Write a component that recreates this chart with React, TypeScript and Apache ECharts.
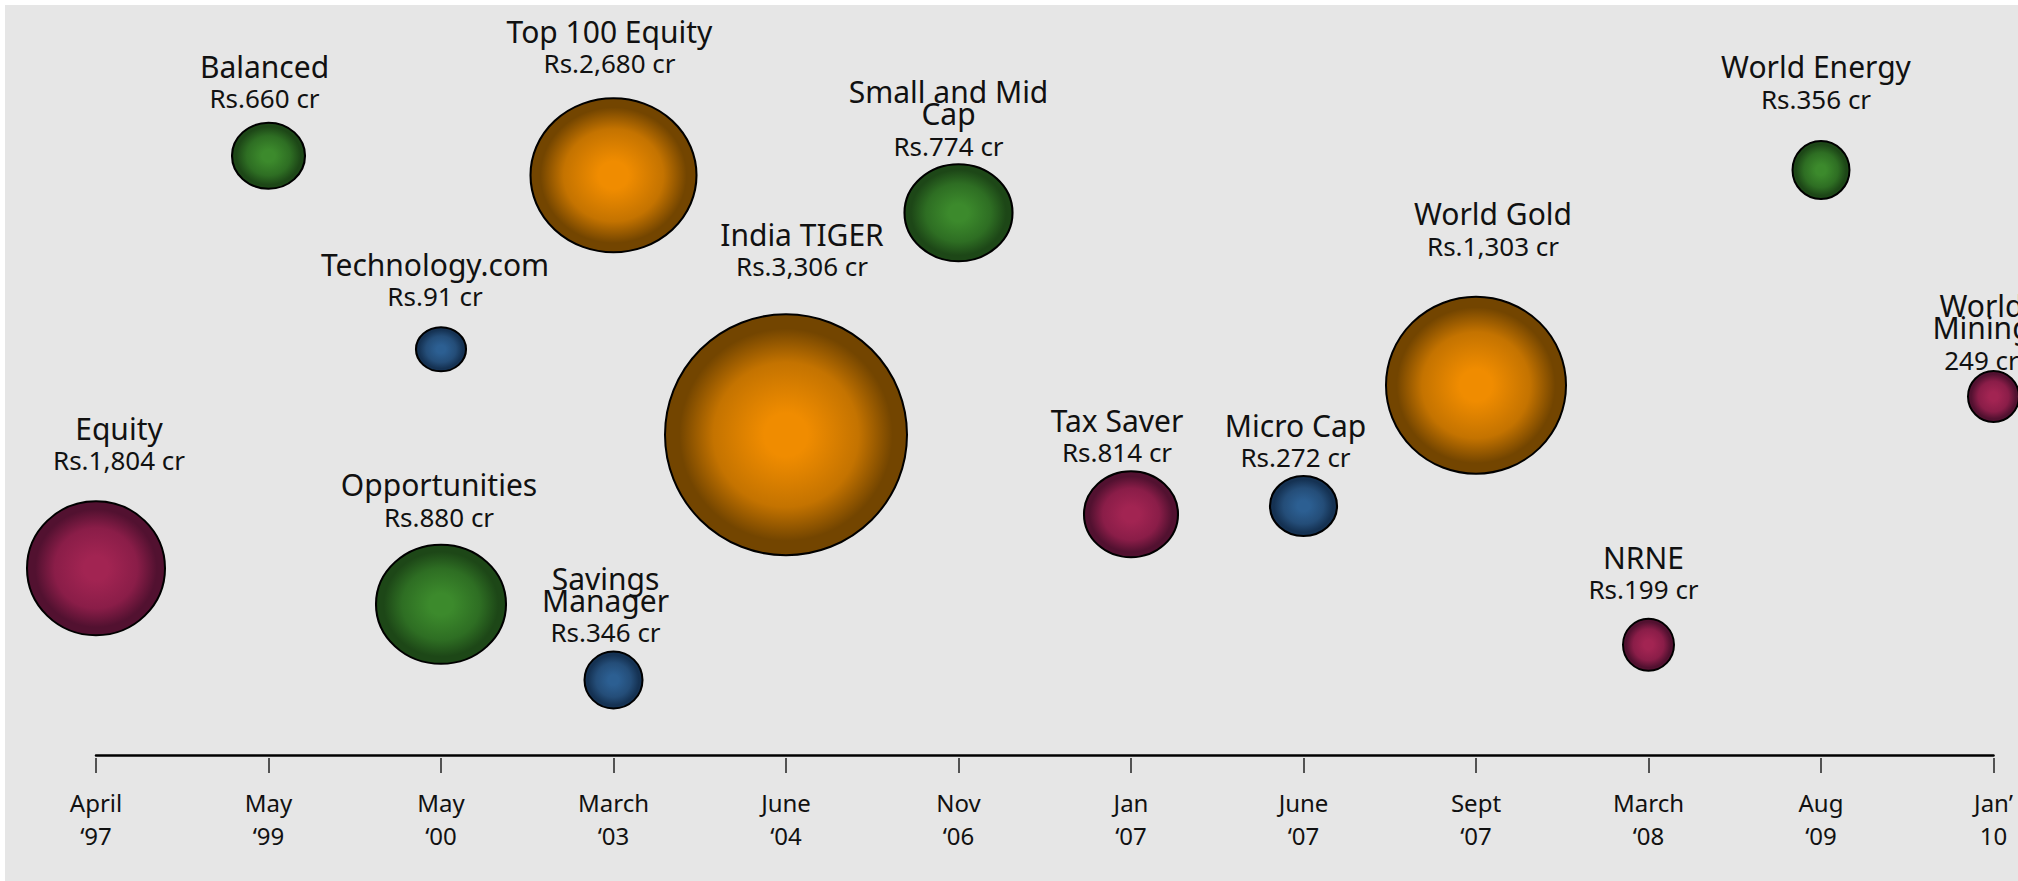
import React, { useEffect, useRef } from "react";
import * as echarts from "echarts";

// ---- data ----
const months = ["April", "May", "May", "March", "June", "Nov", "Jan", "June", "Sept", "March", "Aug", "Jan’"];
const years = ["‘97", "‘99", "‘00", "‘03", "‘04", "‘06", "‘07", "‘07", "‘07", "‘08", "‘09", "10"];

const fundNames = [
  "Equity", "Balanced", "Technology.com", "Opportunities", "Top 100 Equity", "Savings\nManager",
  "India TIGER", "Small and Mid\nCap", "Tax Saver", "Micro Cap", "World Gold", "NRNE", "World Energy", "World\nMining",
];
const fundAumCr = [1804, 660, 91, 880, 2680, 346, 3306, 774, 814, 272, 1303, 199, 356, 249];
const fundLaunchIdx = [0, 1, 2, 2, 3, 3, 4, 5, 6, 7, 8, 9, 10, 11];
const fundFamily = ["maroon", "green", "blue", "green", "orange", "blue", "orange", "green", "maroon", "blue", "orange", "maroon", "green", "maroon"];
const aumPrefix = ["Rs.", "Rs.", "Rs.", "Rs.", "Rs.", "Rs.", "Rs.", "Rs.", "Rs.", "Rs.", "Rs.", "Rs.", "Rs.", ""];

// ---- layout (vertical lane, bubble size, label placement) ----
const bubbleLevel = [24.9, 79.9, 54.1, 20.1, 77.3, 10.0, 42.7, 72.3, 32.1, 33.2, 49.3, 14.7, 78.0, 47.8];
const bubbleW = [138, 73, 50, 130, 166, 58, 242, 108, 94, 67, 180, 51, 57, 51];
const bubbleH = [134, 66, 44, 119, 154, 57, 241, 97, 86, 60, 177, 52, 58, 51];
const labelGap = [19, 2.5, 9, 6, 13, -2.5, 26, -3.5, -3, -3, 29, 7.5, 20, -10.5];
const labelDx = [23, -4, -6, -2, -4, -8, 16, -10, -14, -8, 17, -5, -5, -12];

const palettes: Record<string, string[]> = {
  maroon: ["#a22452", "#8a1d48", "#521130"],
  green: ["#3c8a2c", "#2e6e23", "#1d4717"],
  blue: ["#2c5f92", "#244d78", "#153253"],
  orange: ["#f08c00", "#c47300", "#734500"],
};

const FONT = "'Noto Sans', 'DejaVu Sans', sans-serif";

export default function App() {
  const ref = useRef<HTMLDivElement>(null);
  useEffect(() => {
    const chart = echarts.init(ref.current!, null, { renderer: "svg" });
    const ellipse = "path://M0,50A50,50,0,1,1,100,50A50,50,0,1,1,0,50Z";
    const cats = months.map((m, i) => m + "\n" + years[i]);
    const data = fundNames.map((name, i) => {
      const pal = palettes[fundFamily[i]];
      const titleLines = name.split("\n").map((l) => `{t|${l}}`).join("\n");
      return {
        name,
        value: [fundLaunchIdx[i], bubbleLevel[i], fundAumCr[i]],
        symbolSize: [bubbleW[i], bubbleH[i]],
        itemStyle: {
          color: {
            type: "radial",
            x: 0.5,
            y: 0.5,
            r: 0.5,
            colorStops: [
              { offset: 0, color: pal[0] },
              { offset: 0.18, color: pal[0] },
              { offset: 0.6, color: pal[1] },
              { offset: 0.88, color: pal[2] },
              { offset: 1, color: pal[2] },
            ],
          },
        },
        label: {
          distance: labelGap[i],
          offset: [labelDx[i], 0],
          formatter: `${titleLines}\n{v|${aumPrefix[i]}${fundAumCr[i].toLocaleString("en-US")} cr}`,
        },
      };
    });

    chart.setOption({
      animation: false,
      backgroundColor: "#e6e6e6",
      textStyle: { fontFamily: FONT },
      grid: { left: 91, right: 24.5, top: 0, bottom: 126 },
      xAxis: [
        {
          type: "category",
          data: cats,
          boundaryGap: false,
          axisLine: { show: true, lineStyle: { color: "#000", width: 2.5 } },
          axisTick: { show: false },
          axisLabel: { show: true, margin: 31, fontSize: 24, lineHeight: 33, color: "#111", fontFamily: FONT, interval: 0 },
          splitLine: { show: false },
        },
        {
          type: "category",
          data: cats,
          boundaryGap: false,
          position: "bottom",
          offset: 3,
          axisLine: { show: false },
          axisTick: { show: true, length: 15, interval: 0, lineStyle: { color: "#222", width: 1.5 } },
          axisLabel: { show: false },
          splitLine: { show: false },
        },
      ],
      yAxis: { type: "value", min: 0, max: 100, show: false },
      series: [
        {
          type: "scatter",
          xAxisIndex: 0,
          symbol: ellipse,
          data,
          itemStyle: { borderColor: "#000", borderWidth: 2, opacity: 1 },
          label: {
            show: true,
            position: "top",
            align: "center",
            verticalAlign: "bottom",
            color: "#111",
            fontFamily: FONT,
            rich: {
              t: { fontSize: 30, lineHeight: 22, color: "#111", fontFamily: FONT, align: "center" },
              v: { fontSize: 26, lineHeight: 42, color: "#111", fontFamily: FONT, align: "center" },
            },
          },
          emphasis: { disabled: true },
        },
      ],
    });
    return () => chart.dispose();
  }, []);
  return <div ref={ref} style={{ position: "absolute", left: 5, top: 5, width: 2013, height: 876 }} />;
}
